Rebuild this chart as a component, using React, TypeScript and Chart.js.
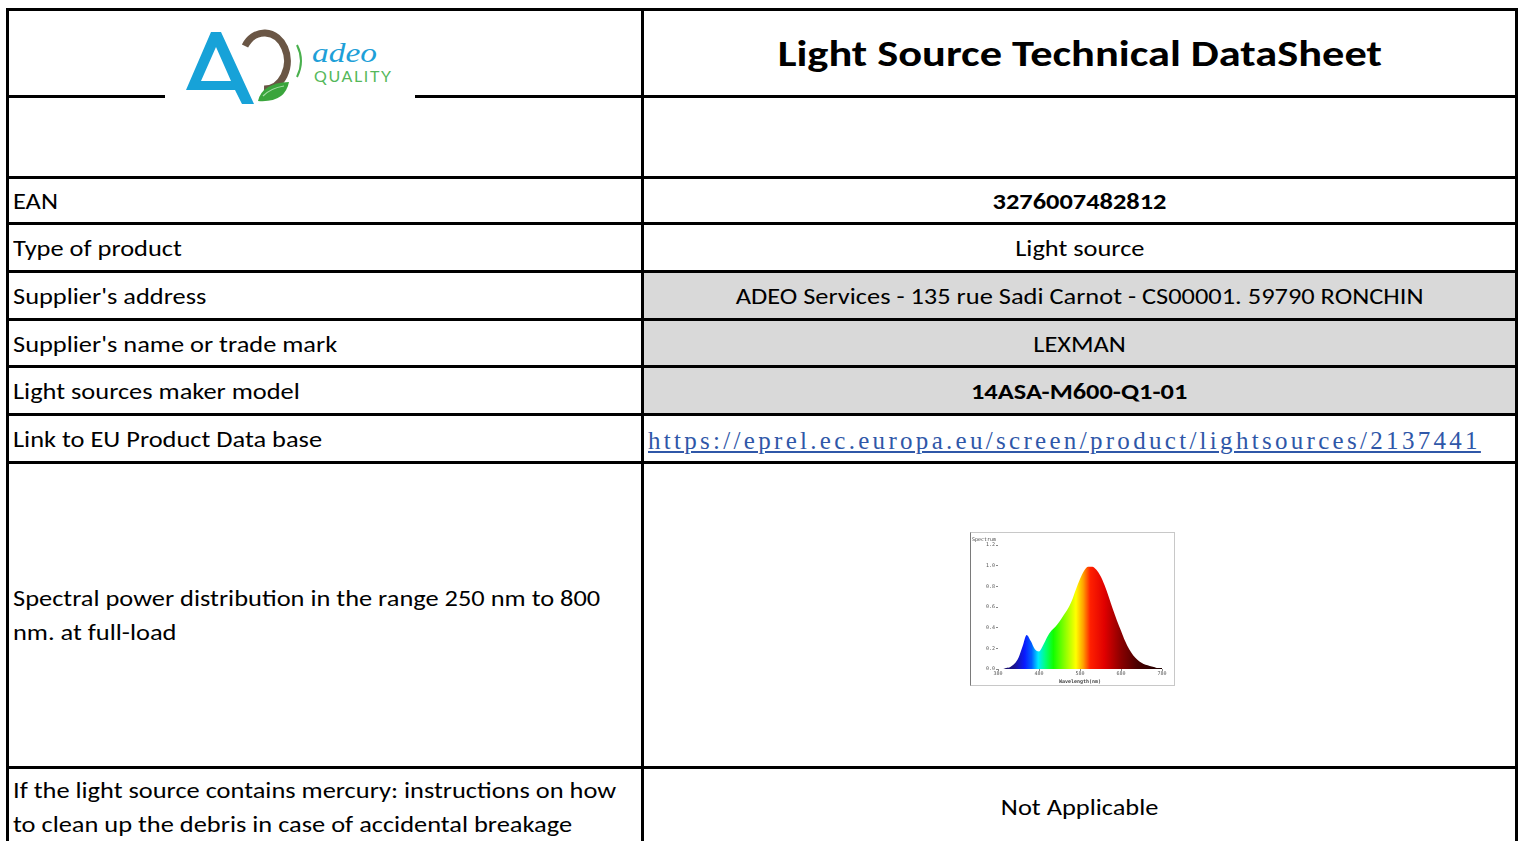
import React, { useEffect, useRef } from "react";
import { Chart, registerables } from "chart.js";

Chart.register(...registerables);

// ---- Spectrum data ----
const wavelengths = [380, 390, 400, 410, 420, 430, 440, 450, 460, 470, 480, 490, 500, 510, 520, 530, 540, 550, 560, 570, 580, 590, 600, 610, 620, 630, 640, 650, 660, 670, 680, 690, 700, 710, 720, 730, 740, 750, 760, 770, 780];
const intensities = [0.0, 0.0, 0.01, 0.02, 0.05, 0.11, 0.22, 0.33, 0.27, 0.19, 0.17, 0.23, 0.31, 0.37, 0.41, 0.46, 0.52, 0.58, 0.66, 0.77, 0.87, 0.95, 0.99, 0.99, 0.96, 0.9, 0.81, 0.7, 0.58, 0.47, 0.37, 0.27, 0.19, 0.13, 0.09, 0.06, 0.04, 0.03, 0.02, 0.01, 0.01];
const xTickValues = [380, 480, 580, 680, 780];
const yTickValues = [0, 0.2, 0.4, 0.6, 0.8, 1.0, 1.2];

// ---- Table texts ----
const rowLabels = [
  "EAN",
  "Type of product",
  "Supplier's address",
  "Supplier's name or trade mark",
  "Light sources maker model",
  "Link to EU Product Data base",
];
const rowValues = [
  "3276007482812",
  "Light source",
  "ADEO Services - 135 rue Sadi Carnot - CS00001. 59790 RONCHIN",
  "LEXMAN",
  "14ASA-M600-Q1-01",
  "https://eprel.ec.europa.eu/screen/product/lightsources/2137441",
];
const boldValues = [true, false, false, false, true, false];
const greyValues = [false, false, true, true, true, false];

const spectralLabelLines = ["Spectral power distribution in the range 250 nm to 800", "nm. at full-load"];
const mercuryLabelLines = ["If the light source contains mercury: instructions on how", "to clean up the debris in case of accidental breakage"];
const mercuryValue = "Not Applicable";
const titleText = "Light Source Technical DataSheet";

const FONT = "Carlito, Lato, 'Open Sans', sans-serif";
const SX = 1.2;

const colorStops: [number, string][] = [
  [380, "#14084a"],
  [420, "#1a1390"],
  [445, "#0a1aff"],
  [462, "#0060ff"],
  [478, "#00e8ff"],
  [495, "#00ff80"],
  [515, "#10ff00"],
  [550, "#a8ff00"],
  [570, "#ffff00"],
  [588, "#ffa000"],
  [605, "#ff2000"],
  [640, "#e00000"],
  [680, "#8a0000"],
  [720, "#4a0000"],
  [780, "#1a0000"],
];

function Stretch({ children, origin = "left center" }: { children: any; origin?: string }) {
  return (
    <span
      style={{
        display: "inline-block",
        transform: `scaleX(${SX})`,
        transformOrigin: origin,
        whiteSpace: "nowrap",
      }}
    >
      {children}
    </span>
  );
}

function SpectrumChart() {
  const ref = useRef<HTMLCanvasElement | null>(null);
  useEffect(() => {
    if (!ref.current) return;
    const titlePlugin = {
      id: "specTitle",
      afterDraw(chart: any) {
        const c = chart.ctx;
        c.save();
        c.font = "5px 'DejaVu Sans Mono', monospace";
        c.fillStyle = "#444";
        c.textBaseline = "top";
        c.fillText("Spectrum", 1, 4);
        c.restore();
      },
    };
    const chart = new Chart(ref.current, {
      type: "line",
      data: {
        datasets: [
          {
            data: wavelengths.map((w, i) => ({ x: w, y: intensities[i] })),
            fill: "origin",
            borderWidth: 0,
            pointRadius: 0,
            tension: 0.4,
            cubicInterpolationMode: "monotone",
            borderColor: "rgba(0,0,0,0)",
            backgroundColor: (context: any) => {
              const ch = context.chart;
              const { chartArea, scales } = ch;
              if (!chartArea) return "#ff0000";
              const x0 = scales.x.getPixelForValue(380);
              const x1 = scales.x.getPixelForValue(780);
              const g = ch.ctx.createLinearGradient(x0, 0, x1, 0);
              colorStops.forEach(([w, col]) => g.addColorStop((w - 380) / 400, col));
              return g;
            },
          },
        ],
      },
      options: {
        responsive: false,
        animation: false,
        layout: { padding: { top: 12, right: 12, left: 0, bottom: 0 } },
        plugins: { legend: { display: false }, tooltip: { enabled: false } },
        scales: {
          x: {
            type: "linear",
            min: 380,
            max: 780,
            afterBuildTicks: (s: any) => {
              s.ticks = xTickValues.map((v) => ({ value: v }));
            },
            afterFit: (s: any) => {
              s.height = 16;
            },
            grid: { display: true, drawOnChartArea: false, tickLength: 2, color: "#888" },
            border: { display: false },
            ticks: {
              font: { size: 5, family: "'DejaVu Sans Mono', monospace" },
              color: "#555",
              padding: 0,
              maxRotation: 0,
            },
            title: {
              display: true,
              text: "Wavelength(nm)",
              font: { size: 5, weight: "bold", family: "'DejaVu Sans Mono', monospace" },
              color: "#444",
              padding: 0,
            },
          },
          y: {
            min: 0,
            max: 1.2,
            afterBuildTicks: (s: any) => {
              s.ticks = yTickValues.map((v) => ({ value: v }));
            },
            afterFit: (s: any) => {
              s.width = 27;
            },
            grid: { display: true, drawOnChartArea: false, tickLength: 2, color: "#888" },
            border: { display: false },
            ticks: {
              font: { size: 5, family: "'DejaVu Sans Mono', monospace" },
              color: "#555",
              padding: 1,
              callback: (v: any) => Number(v).toFixed(1),
            },
          },
        },
      },
      plugins: [titlePlugin],
    } as any);
    return () => chart.destroy();
  }, []);
  return (
    <div
      style={{
        position: "absolute",
        left: 970,
        top: 532,
        width: 205,
        height: 154,
        boxSizing: "border-box",
        borderTop: "1px solid #c8c8c8",
        borderRight: "1px solid #c8c8c8",
        borderBottom: "1px solid #c8c8c8",
        borderLeft: "1px solid #7a7a7a",
        background: "#fff",
      }}
    >
      <canvas ref={ref} width={203} height={152} style={{ display: "block" }} />
    </div>
  );
}

function Logo() {
  return (
    <svg
      width={250}
      height={94}
      style={{ position: "absolute", left: 165, top: 14 }}
    >
      <g transform="translate(-165,-14)">
        <rect x={165} y={14} width={250} height={94} fill="#fff" />
        <path
          d="M186,90 L211,32 L221,32 L254,104 L242,104 L235,90 Z M201,81 L216,47 L231,81 Z"
          fill="#17a2d8"
          fillRule="evenodd"
        />
        <path d="M245,46 A23,28 0 1,1 264,89" fill="none" stroke="#6a5645" strokeWidth={7} />
        <path d="M258,101 Q262,83 289,82 Q285,103 258,101 Z" fill="#3aa53c" />
        <path d="M263,96 Q271,88 284,86" fill="none" stroke="#a5dca5" strokeWidth={1.2} />
        <path d="M297,45 Q305,61 297,77" fill="none" stroke="#49b04d" strokeWidth={2} />
        <text
          x={312}
          y={62}
          fill="#1ea0d8"
          fontFamily="'Liberation Serif', serif"
          fontStyle="italic"
          fontSize={28}
          textLength={65}
          lengthAdjust="spacingAndGlyphs"
        >
          adeo
        </text>
        <text
          x={314}
          y={82}
          fill="#55b85a"
          fontFamily="Lato, sans-serif"
          fontSize={16}
          textLength={77}
        >
          QUALITY
        </text>
      </g>
    </svg>
  );
}

const hLines = [96, 177, 223, 271, 319, 366, 414, 462, 767];

export default function App() {
  const rowTops = [177, 223, 271, 319, 366, 414];
  const rowBottoms = [223, 271, 319, 366, 414, 462];
  return (
    <div
      style={{
        position: "fixed",
        left: 0,
        top: 0,
        width: 1521,
        height: 841,
        overflow: "hidden",
        background: "#fff",
        fontFamily: FONT,
        color: "#000",
      }}
    >
      {rowValues.map((_, i) =>
        greyValues[i] ? (
          <div
            key={"g" + i}
            style={{
              position: "absolute",
              left: 644,
              top: rowTops[i],
              width: 871,
              height: rowBottoms[i] - rowTops[i],
              background: "#d9d9d9",
            }}
          />
        ) : null
      )}

      {hLines.map((y) => (
        <div
          key={"h" + y}
          style={{ position: "absolute", left: 6, top: y - 1, width: 1512, height: 3, background: "#000" }}
        />
      ))}
      <div style={{ position: "absolute", left: 6, top: 8, width: 1512, height: 3, background: "#000" }} />
      <div style={{ position: "absolute", left: 6, top: 8, width: 3, height: 841, background: "#000" }} />
      <div style={{ position: "absolute", left: 641, top: 8, width: 3, height: 841, background: "#000" }} />
      <div style={{ position: "absolute", left: 1515, top: 8, width: 3, height: 841, background: "#000" }} />

      <Logo />

      <div
        style={{
          position: "absolute",
          left: 644,
          top: 11,
          width: 871,
          height: 84,
          display: "flex",
          alignItems: "center",
          justifyContent: "center",
          fontWeight: "bold",
          fontSize: 37,
        }}
      >
        <Stretch origin="center center">{titleText}</Stretch>
      </div>

      {rowLabels.map((lab, i) => (
        <React.Fragment key={"r" + i}>
          <div
            style={{
              position: "absolute",
              left: 13,
              top: rowTops[i] + 2,
              height: rowBottoms[i] - rowTops[i] - 1,
              width: 625,
              display: "flex",
              alignItems: "center",
              fontSize: 22,
              whiteSpace: "nowrap",
            }}
          >
            <Stretch>{lab}</Stretch>
          </div>
          <div
            style={{
              position: "absolute",
              left: 644,
              top: rowTops[i] + 2,
              height: rowBottoms[i] - rowTops[i] - 1,
              width: 871,
              display: "flex",
              alignItems: "center",
              justifyContent: i === 5 ? "flex-start" : "center",
              fontSize: 22,
              fontWeight: boldValues[i] ? "bold" : "normal",
              whiteSpace: "nowrap",
            }}
          >
            {i === 5 ? (
              <span
                style={{
                  marginLeft: 4,
                  marginTop: 3,
                  fontFamily: "'Liberation Serif', serif",
                  fontSize: 25,
                  color: "#2f57a8",
                  textDecoration: "underline",
                  letterSpacing: 3.3,
                }}
              >
                {rowValues[i]}
              </span>
            ) : (
              <Stretch origin="center center">{rowValues[i]}</Stretch>
            )}
          </div>
        </React.Fragment>
      ))}

      <div
        style={{
          position: "absolute",
          left: 13,
          top: 582,
          fontSize: 22,
          lineHeight: "34px",
        }}
      >
        {spectralLabelLines.map((t) => (
          <div key={t}>
            <Stretch>{t}</Stretch>
          </div>
        ))}
      </div>
      <SpectrumChart />

      <div
        style={{
          position: "absolute",
          left: 13,
          top: 774,
          fontSize: 22,
          lineHeight: "34px",
        }}
      >
        {mercuryLabelLines.map((t) => (
          <div key={t}>
            <Stretch>{t}</Stretch>
          </div>
        ))}
      </div>
      <div
        style={{
          position: "absolute",
          left: 644,
          top: 791,
          width: 871,
          textAlign: "center",
          fontSize: 22,
          lineHeight: "34px",
        }}
      >
        <Stretch origin="center center">{mercuryValue}</Stretch>
      </div>
    </div>
  );
}
